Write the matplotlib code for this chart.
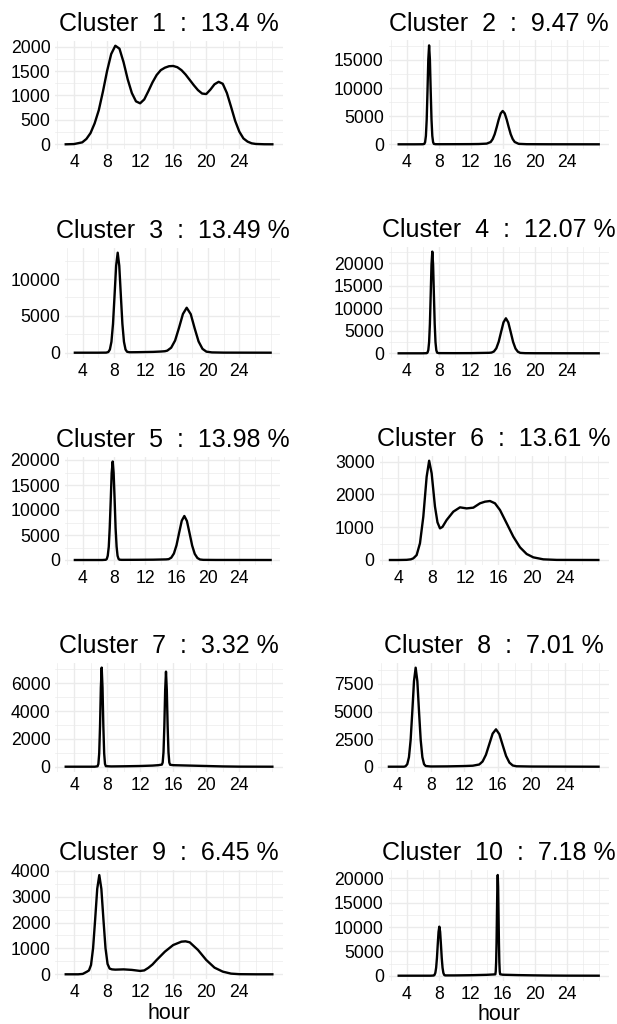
import matplotlib.pyplot as plt
from matplotlib.ticker import FixedLocator, MultipleLocator

plt.rcParams['font.family'] = ['Liberation Sans', 'DejaVu Sans']

# titles
labels = ['Cluster  1  :  13.4 %', 'Cluster  2  :  9.47 %', 'Cluster  3  :  13.49 %',
          'Cluster  4  :  12.07 %', 'Cluster  5  :  13.98 %', 'Cluster  6  :  13.61 %',
          'Cluster  7  :  3.32 %', 'Cluster  8  :  7.01 %', 'Cluster  9  :  6.45 %',
          'Cluster  10  :  7.18 %']

# curves (hour, count)
hours_1 = [3, 4, 5, 5.5, 6, 6.5, 7, 7.5, 8, 8.5, 9, 9.5, 10, 10.5, 11, 11.5, 12, 12.5, 13, 13.5,
           14, 14.5, 15, 15.5, 16, 16.5, 17, 17.5, 18, 18.5, 19, 19.5, 20, 20.5, 21, 21.5, 22,
           22.5, 23, 23.5, 24, 24.5, 25, 25.5, 26, 27, 28]
count_1 = [0, 5, 40, 110, 230, 430, 700, 1080, 1500, 1850, 2020, 1960, 1680, 1330, 1050, 880, 840,
           920, 1090, 1270, 1420, 1520, 1570, 1600, 1605, 1580, 1520, 1430, 1320, 1210, 1110, 1040,
           1030, 1120, 1230, 1280, 1240, 1050, 770, 480, 260, 120, 55, 20, 7, 1, 0]

hours_2 = [3, 5, 6, 6.2, 6.3, 6.4, 6.5, 6.6, 6.7, 6.8, 6.9, 7.0, 7.1, 7.2, 7.3, 7.4, 7.6, 8, 10, 12,
           13, 14, 14.5, 14.75, 15, 15.25, 15.5, 15.75, 16, 16.25, 16.5, 16.75, 17, 17.25, 17.5,
           18, 19, 22, 28]
count_2 = [0, 0, 10, 70, 370, 1500, 4400, 9500, 15100, 17600, 15100, 9500, 4400, 1500, 370, 70, 20,
           15, 20, 30, 50, 120, 410, 930, 1800, 3050, 4400, 5500, 5930, 5500, 4400, 3050, 1800, 930,
           410, 80, 20, 5, 0]

hours_3 = [3, 6, 7, 7.27, 7.47, 7.67, 7.87, 8.07, 8.27, 8.47, 8.67, 8.87, 9.07, 9.27, 9.47, 9.67,
           10, 11, 12, 13, 14, 14.5, 14.8, 15.3, 15.8, 16.3, 16.8, 17.28, 17.8, 18.3, 18.8, 19.3,
           19.8, 20.5, 22, 28]
count_3 = [0, 0, 10, 90, 430, 1480, 3900, 7800, 11800, 13570, 11800, 7800, 3900, 1480, 430, 120,
           60, 70, 90, 110, 160, 200, 280, 680, 1650, 3380, 5250, 6100, 5230, 3300, 1520, 520, 140,
           40, 10, 0]

hours_4 = [3, 6, 6.5, 6.6, 6.7, 6.8, 6.9, 7.0, 7.1, 7.2, 7.3, 7.4, 7.5, 7.6, 7.7, 7.8, 8, 10, 12,
           14, 14.3, 14.6, 14.9, 15.2, 15.5, 15.8, 16.1, 16.4, 16.7, 17.0, 17.3, 17.6, 17.9, 18.2,
           18.8, 20, 28]
count_4 = [0, 0, 30, 150, 700, 2460, 6500, 13000, 19700, 22600, 19700, 13000, 6500, 2460, 700, 150,
           40, 30, 40, 100, 110, 160, 400, 1100, 2570, 4750, 6880, 7780, 6860, 4720, 2530, 1050, 340,
           90, 30, 15, 0]

hours_5 = [3, 6.5, 6.95, 7.08, 7.2, 7.33, 7.45, 7.58, 7.7, 7.83, 7.95, 8.08, 8.2, 8.33, 8.45, 8.58,
           8.7, 9, 11, 13, 14.65, 14.98, 15.31, 15.65, 15.98, 16.31, 16.65, 16.98, 17.31, 17.65,
           17.98, 18.31, 18.65, 18.98, 19.4, 21, 28]
count_5 = [0, 0, 45, 220, 860, 2660, 6400, 11950, 17400, 19700, 17400, 11950, 6400, 2660, 860, 220,
           60, 30, 40, 60, 120, 170, 470, 1300, 2950, 5400, 7850, 8800, 7800, 5340, 2880, 1220, 400,
           100, 30, 10, 0]

hours_6 = [3, 4, 5, 5.5, 5.8, 6.2, 6.6, 7.0, 7.4, 7.7, 8.0, 8.4, 8.7, 9.0, 9.3, 9.8, 10.6, 11.4,
           12.2, 13.0, 13.8, 14.4, 15.0, 15.6, 16.2, 17.0, 17.8, 18.6, 19.4, 20.2, 21.4, 23, 28]
count_6 = [0, 0, 5, 20, 50, 150, 510, 1320, 2540, 3030, 2645, 1630, 1150, 965, 1010, 1220, 1475,
           1607, 1575, 1597, 1730, 1780, 1800, 1730, 1525, 1120, 712, 387, 183, 81, 20, 3, 0]

hours_7 = [3, 6.5, 6.85, 6.95, 7.05, 7.15, 7.25, 7.35, 7.45, 7.55, 7.65, 7.75, 7.85, 8.5, 10, 12,
           13.5, 14.2, 14.63, 14.73, 14.83, 14.93, 15.03, 15.13, 15.23, 15.33, 15.43, 15.53, 15.63,
           16, 18, 20, 22, 24, 28]
count_7 = [0, 0, 30, 200, 960, 2930, 5700, 7130, 5700, 2930, 960, 200, 40, 20, 30, 50, 80, 110, 150,
           300, 1050, 2900, 5500, 6840, 5500, 2900, 1050, 300, 140, 110, 80, 50, 20, 5, 0]

hours_8 = [3, 4.8, 4.99, 5.19, 5.39, 5.59, 5.79, 5.99, 6.19, 6.39, 6.59, 6.79, 6.99, 7.19, 7.39, 8,
           10, 12, 13, 13.77, 14.17, 14.57, 14.97, 15.37, 15.77, 16.17, 16.57, 16.97, 17.37, 17.77,
           18.2, 20, 28]
count_8 = [0, 0, 45, 230, 865, 2420, 5000, 7760, 8980, 7760, 5000, 2420, 865, 230, 60, 20, 30, 60,
           90, 200, 470, 1080, 2040, 3000, 3390, 2950, 1950, 980, 370, 110, 40, 15, 0]

hours_9 = [3, 4.5, 5.06, 5.56, 5.81, 6.06, 6.31, 6.56, 6.81, 7.06, 7.31, 7.56, 7.81, 8.06, 8.31,
           8.6, 9, 10, 11, 12, 12.5, 13, 13.5, 14, 15, 16, 17, 17.5, 18, 19, 20, 21, 22, 23, 24, 26,
           28]
count_9 = [0, 0, 15, 100, 150, 360, 1010, 2120, 3300, 3830, 3300, 2120, 1010, 400, 220, 190, 180,
           190, 170, 130, 150, 250, 380, 553, 875, 1130, 1260, 1273, 1235, 940, 553, 257, 103, 26, 5,
           0, 0]

hours_10 = [3, 7, 7.38, 7.48, 7.58, 7.68, 7.78, 7.88, 7.98, 8.08, 8.18, 8.28, 8.38, 8.48, 8.58, 8.68,
            8.8, 10, 12, 14, 14.8, 15.08, 15.13, 15.18, 15.23, 15.28, 15.33, 15.38, 15.43, 15.48,
            15.53, 15.58, 15.63, 15.68, 16, 18, 20, 22, 24, 28]
count_10 = [0, 0, 40, 170, 590, 1640, 3630, 6400, 9000, 10070, 9000, 6400, 3630, 1640, 590, 170, 60,
            60, 100, 180, 250, 280, 900, 2800, 6700, 12550, 18250, 20680, 18250, 12550, 6700, 2800,
            900, 300, 200, 120, 70, 30, 10, 0]

hours = [hours_1, hours_2, hours_3, hours_4, hours_5, hours_6, hours_7, hours_8, hours_9, hours_10]
counts = [count_1, count_2, count_3, count_4, count_5, count_6, count_7, count_8, count_9, count_10]
ystep = [500, 5000, 5000, 5000, 5000, 1000, 2000, 2500, 1000, 5000]
xticks = [4, 8, 12, 16, 20, 24]

# layout, in pixels of the 617x1024 picture
x4_px = [74, 406.7, 82.7, 406.7, 82.7, 398.3, 74, 397.3, 74, 406.7]
x24_px = [239.3, 566.7, 239.3, 566.7, 239.3, 565, 239.3, 565, 239.3, 566.7]
y0_px = [144.3, 144.3, 352.7, 353.3, 560, 560, 766.7, 766.7, 974.3, 975.7]
yref_px = [(2000, 46.7), (15000, 60), (10000, 279), (20000, 263.3), (20000, 460),
           (3000, 461.7), (6000, 683.3), (7500, 684), (4000, 870.7), (20000, 878.3)]

W, H = 617, 1024
fig = plt.figure(figsize=(W / 100, H / 100), dpi=100)
x_lo, x_hi = 1.75, 29.25

for i in range(10):
    peak = max(counts[i])
    pph = (x24_px[i] - x4_px[i]) / 20
    left = x4_px[i] - (4 - x_lo) * pph
    right = x4_px[i] + (x_hi - 4) * pph
    rv, rp = yref_px[i]
    ppu = (y0_px[i] - rp) / rv
    bottom = y0_px[i] + 0.05 * peak * ppu
    top = y0_px[i] - 1.05 * peak * ppu
    ax = fig.add_axes([left / W, 1 - bottom / H, (right - left) / W, (bottom - top) / H])

    ax.plot(hours[i], counts[i], color='black', lw=1.7, solid_joinstyle='round')
    ax.set_xlim(x_lo, x_hi)
    ax.set_ylim(-0.05 * peak, 1.05 * peak)

    ax.xaxis.set_major_locator(FixedLocator(xticks))
    ax.xaxis.set_minor_locator(FixedLocator([2, 6, 10, 14, 18, 22, 26, 28]))
    ax.yaxis.set_major_locator(MultipleLocator(ystep[i]))
    ax.yaxis.set_minor_locator(MultipleLocator(ystep[i] / 2))
    ax.grid(which='major', color='#EBEBEB', lw=1.0)
    ax.grid(which='minor', color='#EBEBEB', lw=0.5)
    ax.set_axisbelow(True)
    for s in ax.spines.values():
        s.set_visible(False)
    ax.tick_params(which='both', length=0, labelsize=12.7, pad=3.5, labelcolor='black')
    ax.set_title(labels[i], fontsize=18, pad=7)
    if i >= 8:
        ax.set_xlabel('hour', fontsize=15.5, labelpad=1)

fig.savefig('out.png', dpi=100)
